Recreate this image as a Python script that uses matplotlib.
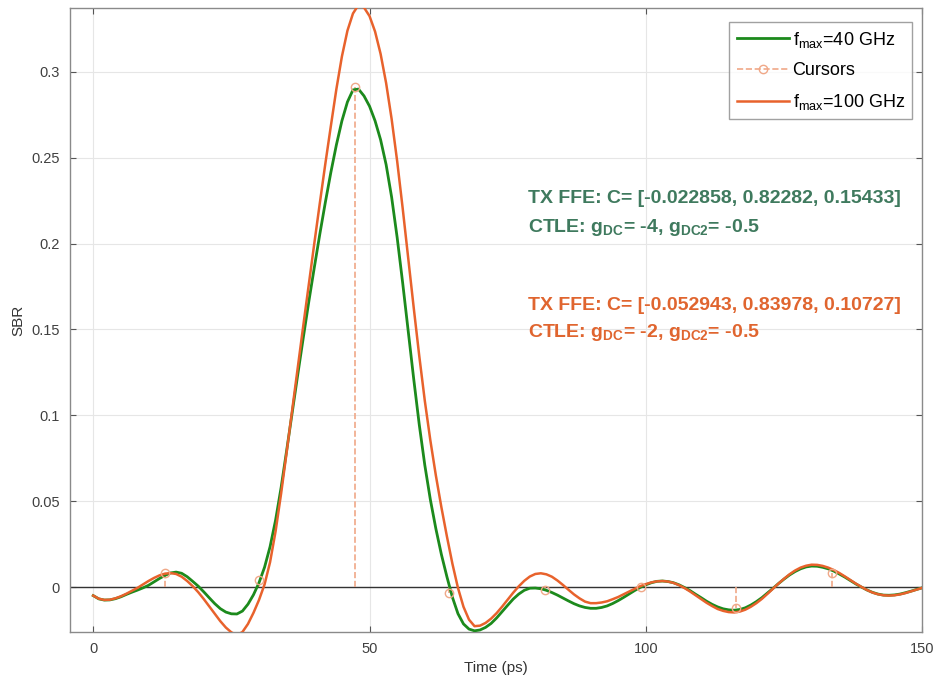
import numpy as np
import matplotlib
matplotlib.use('Agg')
import matplotlib.pyplot as plt
from matplotlib import rcParams
from matplotlib.lines import Line2D
from matplotlib.legend_handler import HandlerLine2D

rcParams['font.family'] = ['Liberation Sans', 'DejaVu Sans']
rcParams['mathtext.fontset'] = 'custom'
rcParams['mathtext.rm'] = 'Liberation Sans'
rcParams['mathtext.bf'] = 'Liberation Sans:bold'
rcParams['mathtext.it'] = 'Liberation Sans:italic'

# time axis (ps), 1 ps sampling
t = list(range(0, 151))

# fmax = 40 GHz
sbr_40 = [-0.0050, -0.0069, -0.0076, -0.0075, -0.0068, -0.0057, -0.0043, -0.0030,
          -0.0018, -0.0005, 0.0010, 0.0030, 0.0050, 0.0068, 0.0082, 0.0087,
          0.0080, 0.0060, 0.0033, 0.0005, -0.0028, -0.0063, -0.0097, -0.0126,
          -0.0146, -0.0156, -0.0157, -0.0140, -0.0100, -0.0045, 0.0025, 0.0115,
          0.0235, 0.0390, 0.0580, 0.0795, 0.1015, 0.1235, 0.1450, 0.1660,
          0.1860, 0.2055, 0.2240, 0.2415, 0.2575, 0.2715, 0.2825, 0.2895,
          0.2900, 0.2860, 0.2800, 0.2715, 0.2605, 0.2460, 0.2270, 0.2035,
          0.1770, 0.1490, 0.1210, 0.0945, 0.0710, 0.0510, 0.0340, 0.0190,
          0.0060, -0.0060, -0.0155, -0.0215, -0.0245, -0.0255, -0.0250, -0.0235,
          -0.0212, -0.0180, -0.0143, -0.0106, -0.0070, -0.0041, -0.0019, -0.0007,
          -0.0006, -0.0010, -0.0019, -0.0032, -0.0047, -0.0064, -0.0081, -0.0097,
          -0.0110, -0.0119, -0.0124, -0.0124, -0.0119, -0.0110, -0.0096, -0.0079,
          -0.0060, -0.0040, -0.0020, -0.0002, 0.0013, 0.0025, 0.0033, 0.0035,
          0.0032, 0.0025, 0.0013, -0.0003, -0.0021, -0.0042, -0.0062, -0.0083,
          -0.0101, -0.0116, -0.0127, -0.0133, -0.0135, -0.0131, -0.0121, -0.0105,
          -0.0085, -0.0062, -0.0035, -0.0008, 0.0020, 0.0046, 0.0070, 0.0090,
          0.0106, 0.0117, 0.0122, 0.0121, 0.0115, 0.0106, 0.0093, 0.0076,
          0.0058, 0.0038, 0.0018, 0.0000, -0.0017, -0.0031, -0.0041, -0.0047,
          -0.0048, -0.0046, -0.0041, -0.0033, -0.0024, -0.0014, -0.0005]

# fmax = 100 GHz
sbr_100 = [-0.0050, -0.0068, -0.0075, -0.0074, -0.0066, -0.0054, -0.0039, -0.0022,
           -0.0005, 0.0015, 0.0035, 0.0053, 0.0068, 0.0078, 0.0081, 0.0076,
           0.0060, 0.0035, 0.0005, -0.0030, -0.0070, -0.0113, -0.0157, -0.0199,
           -0.0236, -0.0264, -0.0280, -0.0262, -0.0215, -0.0150, -0.0075, 0.0015,
           0.0145, 0.0325, 0.0545, 0.0785, 0.1030, 0.1275, 0.1520, 0.1760,
           0.2000, 0.2235, 0.2465, 0.2685, 0.2900, 0.3090, 0.3240, 0.3340,
           0.3390, 0.3375, 0.3325, 0.3235, 0.3105, 0.2935, 0.2725, 0.2480,
           0.2205, 0.1915, 0.1625, 0.1345, 0.1085, 0.0855, 0.0650, 0.0465,
           0.0295, 0.0135, -0.0005, -0.0115, -0.0190, -0.0228, -0.0225, -0.0209,
           -0.0184, -0.0152, -0.0114, -0.0073, -0.0033, 0.0004, 0.0036, 0.0061,
           0.0076, 0.0080, 0.0074, 0.0060, 0.0038, 0.0012, -0.0016, -0.0043,
           -0.0066, -0.0085, -0.0094, -0.0094, -0.0090, -0.0083, -0.0071, -0.0058,
           -0.0042, -0.0026, -0.0010, 0.0005, 0.0017, 0.0027, 0.0033, 0.0035,
           0.0032, 0.0024, 0.0011, -0.0006, -0.0026, -0.0048, -0.0070, -0.0092,
           -0.0111, -0.0128, -0.0139, -0.0146, -0.0148, -0.0143, -0.0132, -0.0115,
           -0.0094, -0.0069, -0.0040, -0.0010, 0.0020, 0.0048, 0.0074, 0.0096,
           0.0113, 0.0124, 0.0130, 0.0129, 0.0123, 0.0113, 0.0099, 0.0082,
           0.0062, 0.0041, 0.0020, 0.0001, -0.0017, -0.0032, -0.0042, -0.0048,
           -0.0050, -0.0048, -0.0043, -0.0035, -0.0025, -0.0015, -0.0005]

# cursor samples
t_cur = [12.9, 30.0, 47.4, 64.4, 81.8, 99.1, 116.4, 133.6]
v_cur = [0.008, 0.004, 0.291, -0.0035, -0.002, 0.0, -0.012, 0.008]

c_green = '#1c8a1c'
c_orange = '#e8622c'
c_cursor = '#f0a888'


class RightMarker(HandlerLine2D):
    # dashed line with the marker at its right end, like the MATLAB legend
    def get_xdata(self, legend, xdescent, ydescent, width, height, fontsize):
        xdata, _ = super().get_xdata(legend, xdescent, ydescent, width, height, fontsize)
        return xdata, [xdata[-1]]


fig = plt.figure(figsize=(9.4, 6.86), dpi=100)
ax = fig.add_axes([0.0745, 0.0787, 0.9065, 0.9096])

ax.axhline(0, color='#333333', lw=1.0, zorder=1)
h40, = ax.plot(t, sbr_40, '-', color=c_green, lw=2.0, zorder=3)
ml, sl, bl = ax.stem(t_cur, v_cur, linefmt='--', markerfmt='o', basefmt=' ')
plt.setp(sl, color=c_cursor, lw=1.2)
plt.setp(ml, markerfacecolor='none', markeredgecolor=c_cursor, markersize=6, markeredgewidth=1.0)
ml.set_zorder(4)
h100, = ax.plot(t, sbr_100, '-', color=c_orange, lw=1.8, zorder=3)

ax.set_xlim(-4.2, 150)
ax.set_ylim(-0.0262, 0.3372)
ax.set_xticks([0, 50, 100, 150])
ax.set_yticks([0, 0.05, 0.1, 0.15, 0.2, 0.25, 0.3])
ax.set_yticklabels(['0', '0.05', '0.1', '0.15', '0.2', '0.25', '0.3'])
ax.grid(True, color='#e6e6e6', lw=0.8)
ax.set_axisbelow(True)
ax.tick_params(direction='in', top=True, right=True, length=4, colors='#555555',
               labelcolor='#404040', labelsize=10.5, pad=7.5)
for s in ax.spines.values():
    s.set_color('#8a8a8a')
    s.set_linewidth(1.0)

ax.set_xlabel('Time (ps)', fontsize=11, color='#333333', labelpad=3)
ax.set_ylabel('SBR', fontsize=11, color='#333333', labelpad=4)

c_txt_g = '#3f7a5e'
c_txt_o = '#e0652f'
fs_txt = 14
ax.text(78.7, 0.226, 'TX FFE: C= [-0.022858, 0.82282, 0.15433]', color=c_txt_g,
        fontsize=fs_txt, fontweight='bold', va='center')
ax.text(78.7, 0.2095, r'CTLE: g$_{\mathbf{DC}}$= -4, g$_{\mathbf{DC2}}$= -0.5', color=c_txt_g,
        fontsize=fs_txt, fontweight='bold', va='center')
ax.text(78.7, 0.1637, 'TX FFE: C= [-0.052943, 0.83978, 0.10727]', color=c_txt_o,
        fontsize=fs_txt, fontweight='bold', va='center')
ax.text(78.7, 0.148, r'CTLE: g$_{\mathbf{DC}}$= -2, g$_{\mathbf{DC2}}$= -0.5', color=c_txt_o,
        fontsize=fs_txt, fontweight='bold', va='center')

h_cur = Line2D([0], [0], ls='--', color=c_cursor, lw=1.2, marker='o',
               markerfacecolor='none', markeredgecolor=c_cursor, markersize=6)
leg = ax.legend([h40, h_cur, h100],
                [r'f$_{\rm max}$=40 GHz', 'Cursors', r'f$_{\rm max}$=100 GHz'],
                handler_map={h_cur: RightMarker(numpoints=1)},
                loc='upper right', fontsize=13, frameon=True, fancybox=False,
                edgecolor='#8a8a8a', borderpad=0.4, labelspacing=0.7,
                handlelength=2.9, handletextpad=0.2, borderaxespad=0,
                bbox_to_anchor=(0.988, 0.977))
leg.get_frame().set_linewidth(1.0)

fig.savefig('out.png', dpi=100)
